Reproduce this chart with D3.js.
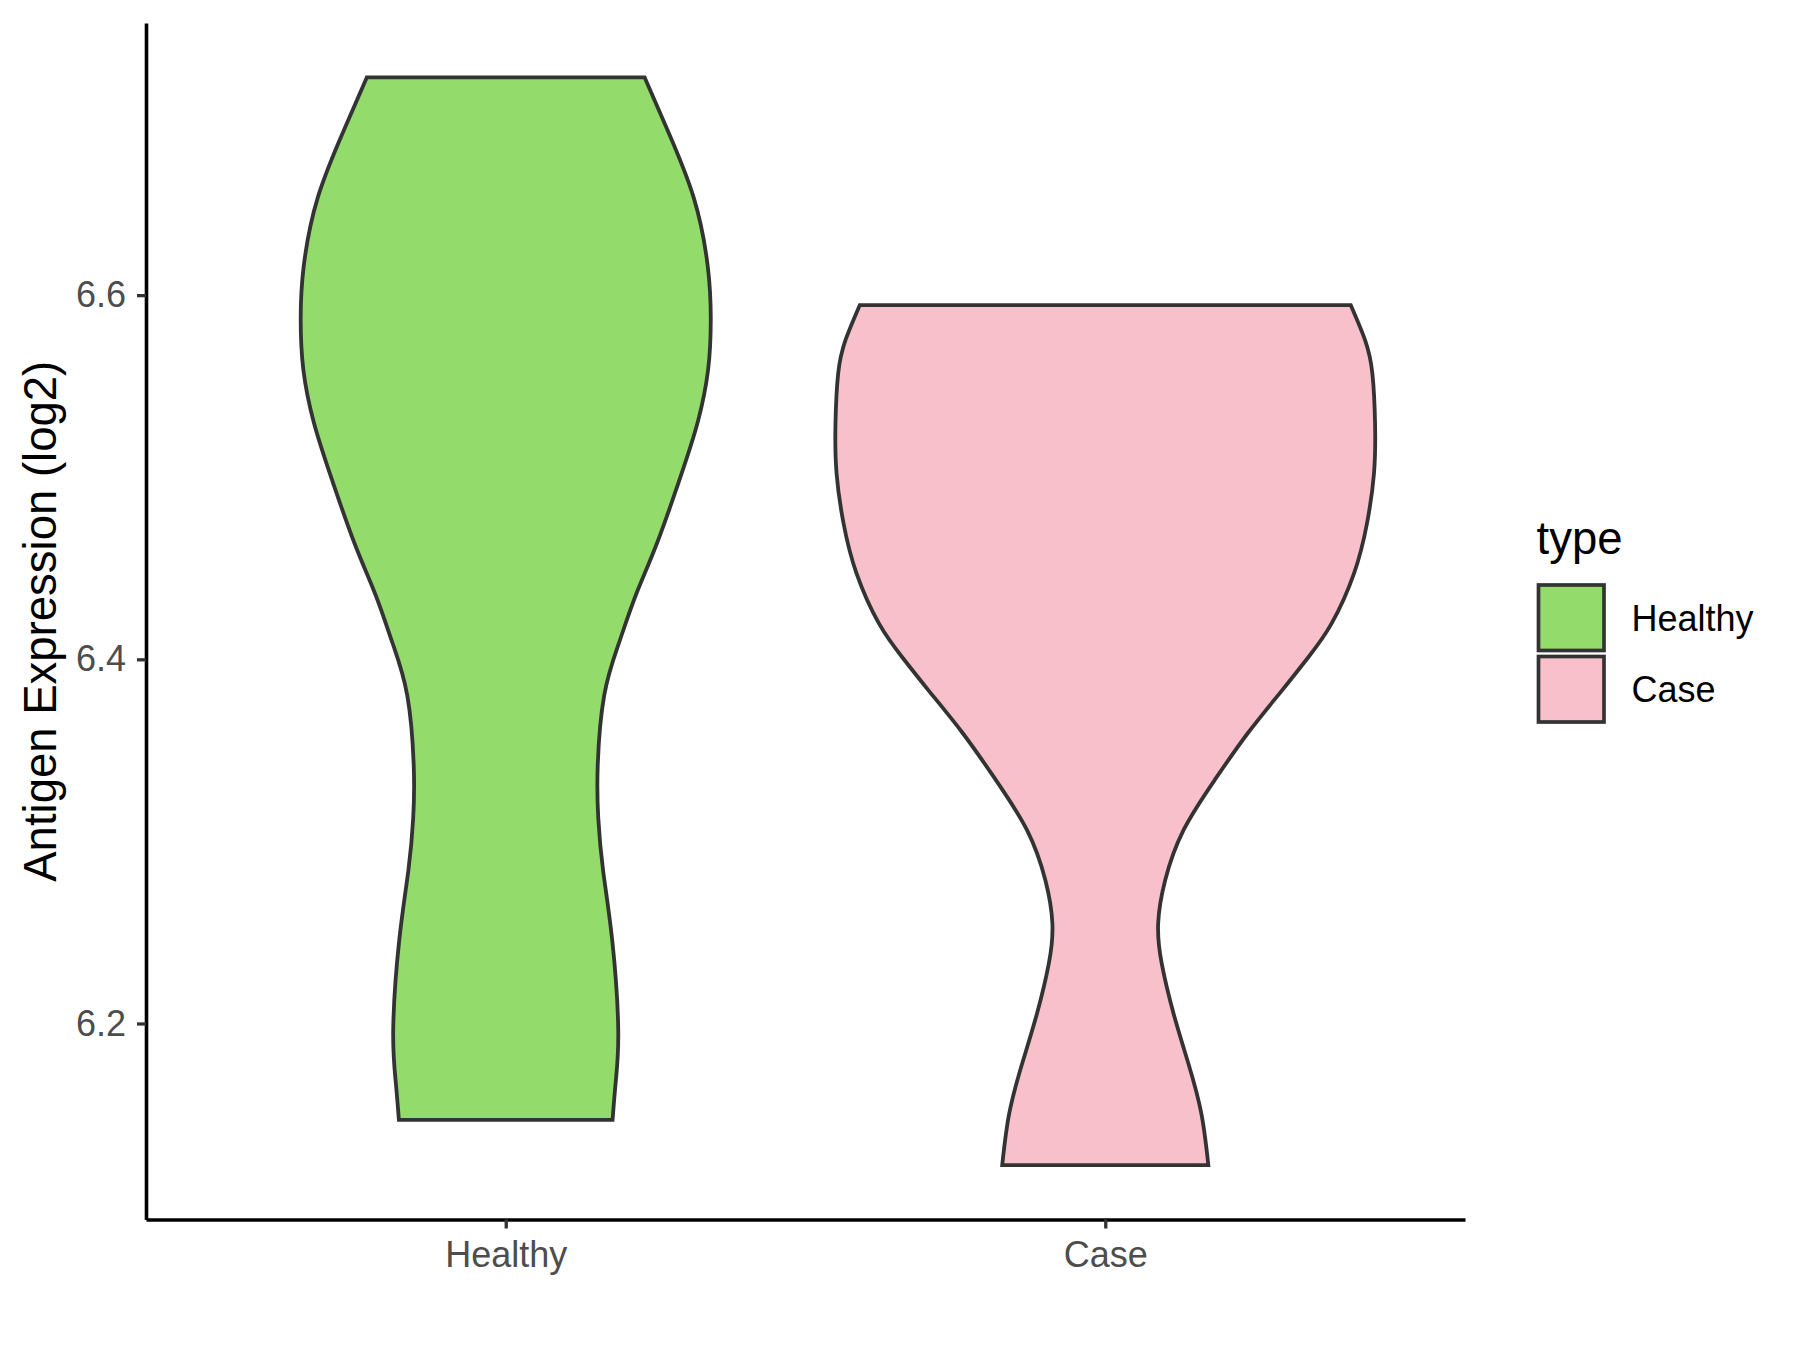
<!DOCTYPE html>
<html><head><meta charset="utf-8">
<script src="https://cdn.jsdelivr.net/npm/d3@7"></script>
<style>body{margin:0;background:#fff}</style>
</head><body>
<svg id="chart" width="1800" height="1350"></svg>
<script>
// ---- data ----
const categories = ["Healthy", "Case"];
const fillColors = ["#93DB6B", "#F7C0CB"];
// density profiles (value grid, scaled density; the widest density = 1)
const healthyValues  = [6.7196, 6.6912, 6.6534, 6.6156, 6.5872, 6.5589, 6.5305, 6.5021, 6.4643, 6.4352, 6.4091, 6.3802, 6.3417, 6.3128, 6.2839, 6.2453, 6.1972, 6.1683, 6.1471];
const healthyDensity = [0.515, 0.598, 0.697, 0.749, 0.760, 0.750, 0.712, 0.652, 0.562, 0.482, 0.420, 0.365, 0.341, 0.343, 0.361, 0.395, 0.417, 0.408, 0.396];
const caseValues  = [6.5945, 6.5753, 6.5570, 6.5295, 6.5021, 6.4746, 6.4472, 6.4197, 6.4014, 6.3831, 6.3594, 6.3336, 6.3062, 6.2787, 6.2549, 6.2331, 6.2055, 6.1780, 6.1506, 6.1222];
const caseDensity = [0.910, 0.963, 0.990, 1.000, 0.996, 0.970, 0.922, 0.839, 0.754, 0.656, 0.528, 0.405, 0.290, 0.222, 0.196, 0.209, 0.253, 0.308, 0.356, 0.382];
const yTicks = [6.2, 6.4, 6.6];
const yTickLabels = ["6.2", "6.4", "6.6"];
const yTitle = "Antigen Expression (log2)";
const legendTitle = "type";

// ---- layout ----
const panel = {left: 146, right: 1465, top: 23};
const FONT = "'Liberation Sans', Arial, Helvetica, sans-serif";
const svg = d3.select("#chart");

const series = [
  {cat: categories[0], values: healthyValues, dens: healthyDensity, fill: fillColors[0]},
  {cat: categories[1], values: caseValues, dens: caseDensity, fill: fillColors[1]}
];

const allVals = healthyValues.concat(caseValues);
const vmin = d3.min(allVals), vmax = d3.max(allVals);
const pad = (vmax - vmin) * 0.05;
const pxPerUnit = 1820.8;
const panelBottom = panel.top + (vmax - vmin + 2 * pad) * pxPerUnit;

const y = d3.scaleLinear().domain([vmin - pad, vmax + pad]).range([panelBottom, panel.top]);
const x = d3.scalePoint().domain(categories).range([panel.left, panel.right]).padding(0.6);
const halfMax = 0.45 * x.step();

// ---- violins ----
series.forEach(s => {
  const pts = s.values.map((v, i) => ({v: v, w: s.dens[i]}));
  const xc = x(s.cat);
  const rightLine = d3.line().x(d => xc + d.w * halfMax).y(d => y(d.v)).curve(d3.curveNatural);
  const leftLine = d3.line().x(d => xc - d.w * halfMax).y(d => y(d.v)).curve(d3.curveNatural);
  const p = rightLine(pts) + "L" + leftLine(pts.slice().reverse()).slice(1) + "Z";
  svg.append("path").attr("d", p)
    .attr("fill", s.fill).attr("stroke", "#333333").attr("stroke-width", 3.8)
    .attr("stroke-linejoin", "miter");
});

// ---- axes ----
const yAxis = d3.axisLeft(y).tickValues(yTicks).tickFormat((d, i) => yTickLabels[i])
  .tickSize(9).tickSizeOuter(0).tickPadding(11);
const gy = svg.append("g").attr("transform", `translate(${panel.left},0)`).call(yAxis);
const xAxis = d3.axisBottom(x).tickSize(9).tickSizeOuter(0).tickPadding(12.5);
const gx = svg.append("g").attr("transform", `translate(0,${panelBottom})`).call(xAxis);

[gy, gx].forEach(g => {
  g.select(".domain").attr("stroke", "#000").attr("stroke-width", 3.6);
  g.selectAll(".tick line").attr("stroke", "#333333").attr("stroke-width", 3.3);
  g.selectAll(".tick text").attr("fill", "#4D4D4D").attr("font-size", 36).attr("font-family", FONT);
});

// ---- y title ----
svg.append("text")
  .attr("transform", `translate(56,${(panel.top + panelBottom) / 2}) rotate(-90)`)
  .attr("text-anchor", "middle").attr("font-size", 45.5).attr("font-family", FONT)
  .attr("fill", "#000").text(yTitle);

// ---- legend ----
const lg = svg.append("g");
lg.append("text").attr("x", 1536.5).attr("y", 554).attr("font-size", 45.5)
  .attr("font-family", FONT).attr("fill", "#000").text(legendTitle);
series.forEach((s, i) => {
  const top = 585 + i * 71.5;
  lg.append("rect").attr("x", 1538.5).attr("y", top).attr("width", 65.5).attr("height", 65.5)
    .attr("fill", s.fill).attr("stroke", "#333333").attr("stroke-width", 3.7);
  lg.append("text").attr("x", 1631.5).attr("y", top + 45.7).attr("font-size", 36)
    .attr("font-family", FONT).attr("fill", "#000").text(s.cat);
});
</script>
</body></html>
